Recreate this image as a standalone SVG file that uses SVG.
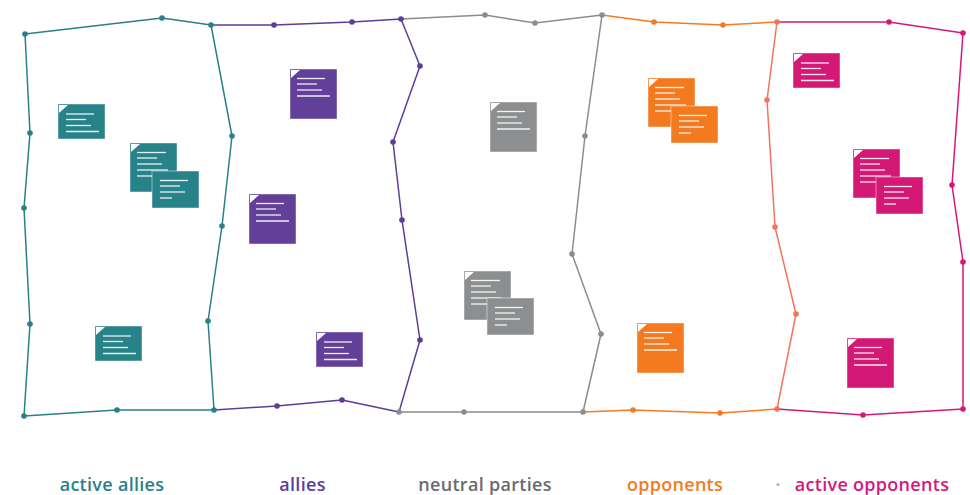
<svg xmlns="http://www.w3.org/2000/svg" xmlns:xlink="http://www.w3.org/1999/xlink" width="970" height="495" viewBox="0 0 970 495">
<style>
.region{fill:none;stroke-width:1.5;stroke-linejoin:round}
.teal{stroke:#2a8088}
.purple{stroke:#5e3d98}
.gray{stroke:#8c8c8c}
.orange{stroke:#f47b20}
.magenta{stroke:#d4187a}
.salmon{stroke:#f27460}
.dt{fill:#2a8088}.dp{fill:#5e3d98}.dg{fill:#8c8c8c}.do{fill:#f47b20}.dm{fill:#d4187a}.ds{fill:#f27460}
.nbody{fill:currentColor;stroke:#fff;stroke-opacity:0.45;stroke-width:1}
.ncorner{fill:#fff}
.nline{stroke:#fff;stroke-opacity:0.9;stroke-width:1.3}
.label{font-family:"Open Sans","Liberation Sans",sans-serif;font-weight:600;font-size:18px;letter-spacing:0.3px;text-anchor:middle}
</style>
<defs>
<g id="noteSq">
<rect class="nbody" x="0" y="0" width="47" height="50"/>
<polygon class="ncorner" points="1,1 10,1 1,9"/>
<g class="nline"><line x1="7" y1="9.5" x2="35" y2="9.5"/><line x1="7" y1="15" x2="27" y2="15"/><line x1="7" y1="21" x2="32" y2="21"/><line x1="7" y1="27" x2="40" y2="27"/></g>
</g>
<g id="noteWide">
<rect class="nbody" x="0" y="0" width="47" height="35"/>
<polygon class="ncorner" points="1,1 10,1 1,9"/>
<g class="nline"><line x1="8" y1="10" x2="36" y2="10"/><line x1="8" y1="15.5" x2="28" y2="15.5"/><line x1="8" y1="21.5" x2="33" y2="21.5"/><line x1="8" y1="27.5" x2="41" y2="27.5"/></g>
</g>
<g id="noteBack">
<rect class="nbody" x="0" y="0" width="47" height="49"/>
<polygon class="ncorner" points="1,1 10,1 1,9"/>
<g class="nline"><line x1="7" y1="9.5" x2="36" y2="9.5"/><line x1="7" y1="15" x2="27" y2="15"/><line x1="7" y1="21" x2="32" y2="21"/><line x1="7" y1="27" x2="38" y2="27"/><line x1="7" y1="33" x2="32" y2="33"/></g>
</g>
<g id="noteFront">
<rect class="nbody" x="0" y="0" width="47" height="37"/>
<g class="nline"><line x1="8" y1="9.5" x2="36" y2="9.5"/><line x1="8" y1="15" x2="28" y2="15"/><line x1="8" y1="21" x2="33" y2="21"/><line x1="8" y1="27" x2="20" y2="27"/></g>
</g>
</defs>
<rect width="970" height="495" fill="#fff"/>
<g id="connectors">
<polyline class="region magenta" points="777,22 889,22 963,33 952,185 963,262 963,409 863,415 777,409"/>
<polyline class="region orange" points="602,15 654,22 723,25 777,22"/>
<polyline class="region orange" points="777,409 720,413 633,410 583,412"/>
<polyline class="region salmon" points="777,22 767,100 775,227 796,314 777,409"/>
<polyline class="region gray" points="401,19 485,15 535,23 602,15 585,136 572,254 601,334 583,412 464,412 399,412"/>
<polyline class="region purple" points="211,25 274,25 352,22 401,19 420,66 393,142 402,220 420,340 399,412 342,400 277,406 214,410"/>
<polygon class="region teal" points="25,34 162,18 211,25 232,136 222,226 208,321 214,410 117,410 24,416 30,324 24,208 30,133"/>
<g class="dt"><circle cx="25" cy="34" r="2.8"/><circle cx="162" cy="18" r="2.8"/><circle cx="211" cy="25" r="2.8"/><circle cx="232" cy="136" r="2.8"/><circle cx="222" cy="226" r="2.8"/><circle cx="208" cy="321" r="2.8"/><circle cx="214" cy="410" r="2.8"/><circle cx="117" cy="410" r="2.8"/><circle cx="24" cy="416" r="2.8"/><circle cx="30" cy="324" r="2.8"/><circle cx="24" cy="208" r="2.8"/><circle cx="30" cy="133" r="2.8"/></g>
<g class="dp"><circle cx="274" cy="25" r="2.8"/><circle cx="352" cy="22" r="2.8"/><circle cx="401" cy="19" r="2.8"/><circle cx="420" cy="66" r="2.8"/><circle cx="393" cy="142" r="2.8"/><circle cx="402" cy="220" r="2.8"/><circle cx="420" cy="340" r="2.8"/><circle cx="342" cy="400" r="2.8"/><circle cx="277" cy="406" r="2.8"/></g>
<g class="dg"><circle cx="485" cy="15" r="2.8"/><circle cx="535" cy="23" r="2.8"/><circle cx="602" cy="15" r="2.8"/><circle cx="585" cy="136" r="2.8"/><circle cx="572" cy="254" r="2.8"/><circle cx="601" cy="334" r="2.8"/><circle cx="583" cy="412" r="2.8"/><circle cx="464" cy="412" r="2.8"/><circle cx="399" cy="412" r="2.8"/></g>
<g class="do"><circle cx="654" cy="22" r="2.8"/><circle cx="723" cy="25" r="2.8"/><circle cx="720" cy="413" r="2.8"/><circle cx="633" cy="410" r="2.8"/></g>
<g class="ds"><circle cx="777" cy="22" r="2.8"/><circle cx="767" cy="100" r="2.8"/><circle cx="775" cy="227" r="2.8"/><circle cx="796" cy="314" r="2.8"/><circle cx="777" cy="409" r="2.8"/></g>
<g class="dm"><circle cx="889" cy="22" r="2.8"/><circle cx="963" cy="33" r="2.8"/><circle cx="952" cy="185" r="2.8"/><circle cx="963" cy="262" r="2.8"/><circle cx="963" cy="409" r="2.8"/><circle cx="863" cy="415" r="2.8"/></g>
</g>
<g id="note-teal-1" style="color:#288289"><use href="#noteWide" x="58" y="104"/></g>
<g id="note-teal-2" style="color:#288289"><use href="#noteBack" x="130" y="143"/><use href="#noteFront" x="152" y="171"/></g>
<g id="note-teal-3" style="color:#288289"><use href="#noteWide" x="95" y="326"/></g>
<g id="note-purple-1" style="color:#623f99"><use href="#noteSq" x="290" y="69"/></g>
<g id="note-purple-2" style="color:#623f99"><use href="#noteSq" x="249" y="194"/></g>
<g id="note-purple-3" style="color:#623f99"><use href="#noteWide" x="316" y="332"/></g>
<g id="note-gray-1" style="color:#8d8e8f"><use href="#noteSq" x="490" y="102"/></g>
<g id="note-gray-2" style="color:#8d8e8f"><use href="#noteBack" x="464" y="271"/><use href="#noteFront" x="487" y="298"/></g>
<g id="note-orange-1" style="color:#f47a20"><use href="#noteBack" x="648" y="78"/><use href="#noteFront" x="671" y="106"/></g>
<g id="note-orange-2" style="color:#f47a20"><use href="#noteSq" x="637" y="323"/></g>
<g id="note-magenta-1" style="color:#d31876"><use href="#noteWide" x="793" y="53"/></g>
<g id="note-magenta-2" style="color:#d31876"><use href="#noteBack" x="853" y="149"/><use href="#noteFront" x="876" y="177"/></g>
<g id="note-magenta-3" style="color:#d31876"><use href="#noteSq" x="847" y="338"/></g>
<g id="labels">
<text class="label" x="112" y="491" fill="#2a8088">active allies</text>
<text class="label" x="302.5" y="491" fill="#5e3d98">allies</text>
<text class="label" x="485" y="491" fill="#6b6b6b">neutral parties</text>
<text class="label" x="675" y="491" fill="#f47b20">opponents</text>
<circle cx="778" cy="484.5" r="1.5" fill="#b0b0b0"/>
<text class="label" x="872" y="491" fill="#d4187a">active opponents</text>
</g>
</svg>
